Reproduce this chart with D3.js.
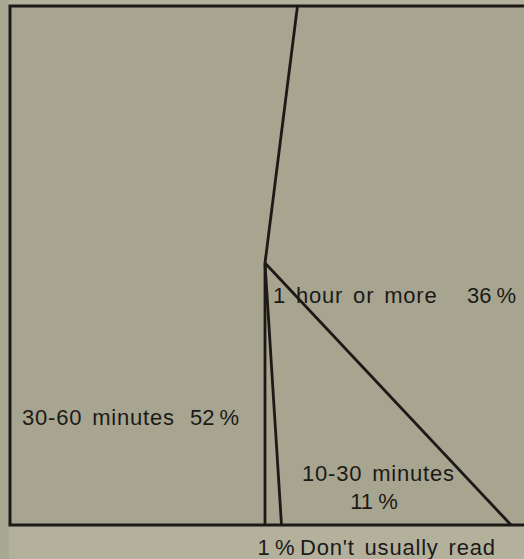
<!DOCTYPE html>
<html>
<head>
<meta charset="utf-8">
<script src="https://cdn.jsdelivr.net/npm/d3@7"></script>
<style>
  html, body { margin: 0; padding: 0; background: #b3b19c; }
  svg { display: block; }
  text { font-family: "Liberation Sans", Arial, sans-serif; fill: #1c1a18;
         font-size: 22px; letter-spacing: 0.8px; word-spacing: 3px; }
  text.pct { word-spacing: -1px; letter-spacing: 0px; }
</style>
</head>
<body>
<svg id="chart" width="524" height="559"></svg>
<script>
const categories = ["30-60 minutes", "1 hour or more", "10-30 minutes", "Don't usually read"];
const shares = [52, 36, 11, 1];
const percentLabels = ["52 %", "36 %", "11 %", "1 %"];

const W = 524, H = 559;
const box = { left: 10, top: 6, right: 530, bottom: 525 };
const cx = 265, cy = 263;

const svg = d3.select("#chart");

svg.append("rect")
    .attr("x", 0).attr("y", 0)
    .attr("width", 9).attr("height", H)
    .attr("fill", "#a9a893");

svg.append("rect")
    .attr("x", box.left).attr("y", box.top)
    .attr("width", box.right - box.left)
    .attr("height", box.bottom - box.top)
    .attr("fill", "#a7a58f")
    .attr("stroke", "#1c1917")
    .attr("stroke-width", 3);

// pie angles, starting straight down and going clockwise
const pie = d3.pie().sort(null).value(d => d)
    .startAngle(Math.PI).endAngle(3 * Math.PI);
const arcs = pie(shares);

// project a ray from the centre onto the square frame
function edgePoint(a) {
    const dx = Math.sin(a), dy = -Math.cos(a);
    const ts = [];
    if (dx > 1e-9) ts.push((box.right - cx) / dx);
    if (dx < -1e-9) ts.push((box.left - cx) / dx);
    if (dy > 1e-9) ts.push((box.bottom - cy) / dy);
    if (dy < -1e-9) ts.push((box.top - cy) / dy);
    const t = d3.min(ts);
    return [cx + dx * t, cy + dy * t];
}

svg.selectAll(".ray")
    .data(arcs)
    .enter()
    .append("line")
    .attr("class", "ray")
    .attr("x1", cx).attr("y1", cy)
    .attr("x2", d => edgePoint(d.startAngle)[0])
    .attr("y2", d => edgePoint(d.startAngle)[1])
    .attr("stroke", "#1c1917")
    .attr("stroke-width", 2.8);

function label(x, y, txt, anchor, cls) {
    svg.append("text").attr("x", x).attr("y", y)
        .attr("class", cls || null)
        .attr("text-anchor", anchor || "start").text(txt);
}

label(22, 425, categories[0]);
label(190, 425, percentLabels[0], "start", "pct");

label(273, 303, categories[1]);
label(467, 303, percentLabels[1], "start", "pct");

label(302, 481, categories[2]);
label(374, 509, percentLabels[2], "middle", "pct");

label(276, 555, percentLabels[3], "middle", "pct");
label(300, 555, categories[3]);
</script>
</body>
</html>
